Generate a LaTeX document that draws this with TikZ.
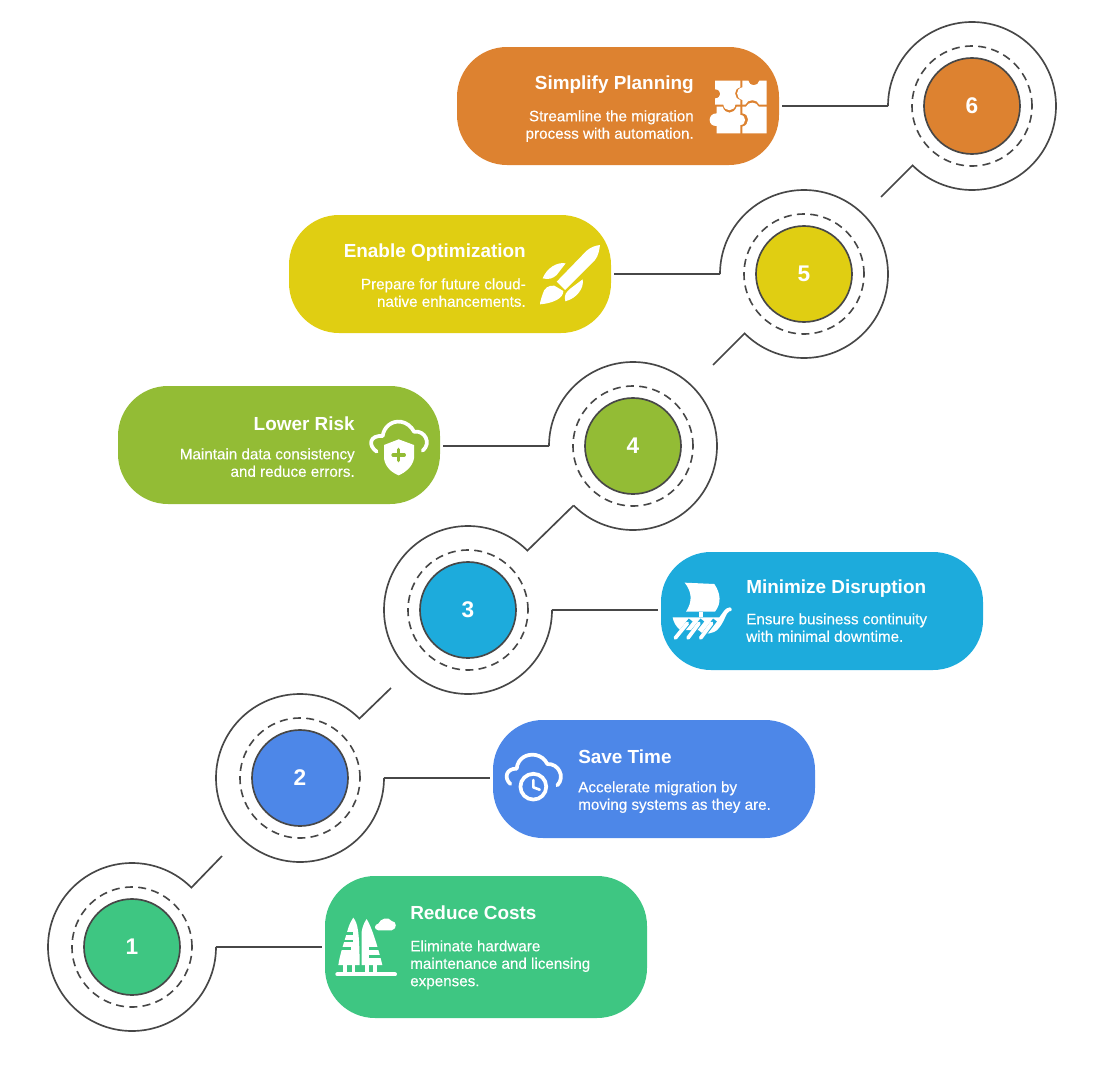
\documentclass[tikz,border=0pt]{standalone}
\usepackage{fontspec}
\setmainfont{Liberation Sans}
\definecolor{cA}{HTML}{3EC682}
\definecolor{cB}{HTML}{4D87E8}
\definecolor{cC}{HTML}{1DABDC}
\definecolor{cD}{HTML}{93BC35}
\definecolor{cE}{HTML}{E0CE12}
\definecolor{cF}{HTML}{DD8230}
\definecolor{ink}{HTML}{474747}
\tikzset{
  px/.style={x=0.75pt,y=-0.75pt},
  pill/.style={rounded corners=37.5pt,minimum width=241.5pt,minimum height=88.5pt,inner sep=0pt,outer sep=0pt},
  badge/.style={circle,draw=ink,line width=1.25pt,minimum size=72pt,inner sep=0pt,text=white,font=\bfseries\fontsize{17}{17}\selectfont},
  halo/.style={circle,draw=ink,dash pattern=on 6pt off 4pt,line width=1.2pt,minimum size=90pt,inner sep=0pt},
  outer/.style={circle,minimum size=126pt,inner sep=0pt,outer sep=0pt},
  ring/.style={draw=ink,line width=1.25pt},
  link/.style={draw=ink,line width=1.5pt,shorten >=2pt},
  title/.style={text=white,inner sep=0pt,font=\bfseries\fontsize{14.2}{15}\selectfont},
  bodytext/.style={text=white,inner sep=0pt,font=\fontsize{11.4}{13.1}\selectfont\addfontfeature{FakeBold=0.25}},
  ico/.style={fill=white,draw=none},
  icoline/.style={draw=white,line cap=round,line join=round,line width=2.8pt},
}
\newcommand{\stepmark}[5]{% name, x, y, color, number
  \node[outer] (outer#1) at (#2,#3) {};
  \node[halo] (halo#1) at (#2,#3) {};
  \node[badge,fill=#4] (badge#1) at (#2,#3) {#5};
}
\begin{document}
\begin{tikzpicture}[px]
\useasboundingbox (0,0) rectangle (1104,1067);
% step marks
\stepmark{1}{132}{947}{cA}{1}
\stepmark{2}{300}{778}{cB}{2}
\stepmark{3}{468}{610}{cC}{3}
\stepmark{4}{633}{446}{cD}{4}
\stepmark{5}{804}{274}{cE}{5}
\stepmark{6}{972}{106}{cF}{6}
% pills
\node[pill,fill=cA,minimum height=106.5pt] (pill1) at (486,947) {};
\node[pill,fill=cB] (pill2) at (654,779) {};
\node[pill,fill=cC] (pill3) at (822,611) {};
\node[pill,fill=cD] (pill4) at (279,445) {};
\node[pill,fill=cE] (pill5) at (450,274) {};
\node[pill,fill=cF] (pill6) at (618,106) {};
% free ends
\coordinate (tail1) at (222,856);
\coordinate (tail2) at (391,688);
\coordinate (tail5) at (713,365);
\coordinate (tail6) at (881,197);
% rings
\draw[ring] (outer1.east) arc[start angle=0,end angle=-315,radius=63pt] -- (tail1);
\draw[ring] (outer2.east) arc[start angle=0,end angle=-315,radius=63pt] -- (tail2);
\draw[ring] (outer3.east) arc[start angle=0,end angle=-315,radius=63pt] -- (outer4.south west);
\draw[ring] (outer4.west) arc[start angle=180,end angle=-135,radius=63pt];
\draw[ring] (outer5.west) arc[start angle=180,end angle=-135,radius=63pt] -- (tail5);
\draw[ring] (outer6.west) arc[start angle=180,end angle=-135,radius=63pt] -- (tail6);
% links
\draw[link] (outer1.east) -- (outer1.east -| pill1.west);
\draw[link] (outer2.east) -- (outer2.east -| pill2.west);
\draw[link] (outer3.east) -- (outer3.east -| pill3.west);
\draw[link] (outer4.west) -- (outer4.west -| pill4.east);
\draw[link] (outer5.west) -- (outer5.west -| pill5.east);
\draw[link] (outer6.west) -- (outer6.west -| pill6.east);
% texts
\node[title,anchor=west] (t1) at (410,913) {Reduce Costs};
\node[bodytext,anchor=north west,align=left] (b1) at (410,940) {Eliminate hardware\\maintenance and licensing\\expenses.};
\node[title,anchor=west] (t2) at (578,757) {Save Time};
\node[bodytext,anchor=north west,align=left] (b2) at (578,781) {Accelerate migration by\\moving systems as they are.};
\node[title,anchor=west] (t3) at (746,589) {Minimize Disruption};
\node[bodytext,anchor=north west,align=left] (b3) at (746,613) {Ensure business continuity\\with minimal downtime.};
\node[title,anchor=east] (t4) at (355,424) {Lower Risk};
\node[bodytext,anchor=north east,align=right] (b4) at (355,448) {Maintain data consistency\\and reduce errors.};
\node[title,anchor=east] (t5) at (526,253) {Enable Optimization};
\node[bodytext,anchor=north east,align=right] (b5) at (526,278) {Prepare for future cloud-\\native enhancements.};
\node[title,anchor=east] (t6) at (694,85) {Simplify Planning};
\node[bodytext,anchor=north east,align=right] (b6) at (694,110) {Streamline the migration\\process with automation.};
% icon: trees
\begin{scope}[shift={(325,905)},scale=1/3]
\draw[icoline,line width=3pt] (37,208) -- (210,208);
\fill[ico] (85,38) .. controls (98,55) and (103,75) .. (104,180) -- (40,180) .. controls (44,150) and (58,110) .. (68,75) .. controls (72,60) and (78,48) .. (85,38) -- cycle;
\fill[ico] (125,42) .. controls (140,65) and (160,130) .. (172,180) -- (110,180) -- (110,80) .. controls (112,65) and (118,52) .. (125,42) -- cycle;
\draw[cA,line width=1.8pt] (45,86) -- (84,86);
\draw[cA,line width=1.8pt] (45,108) -- (84,108);
\draw[cA,line width=1.8pt] (35,131) -- (78,131);
\draw[cA,line width=1.8pt] (132,130) -- (170,130);
\draw[cA,line width=1.8pt] (132,155) -- (175,155);
\fill[ico] (54,180) rectangle (65,202);
\fill[ico] (80,180) rectangle (91,202);
\fill[ico] (120,178) rectangle (131,202);
\fill[ico] (145,178) rectangle (156,202);
\fill[ico] (160,76) .. controls (145,74) and (148,58) .. (160,56) .. controls (165,42) and (190,32) .. (200,48) .. controls (215,48) and (218,72) .. (200,76) -- cycle;
\end{scope}
% icon: cloud clock
\begin{scope}[shift={(495,740)},scale=1/3]
\draw[icoline] (46,132) .. controls (25,112) and (35,85) .. (65,86) .. controls (68,55) and (95,40) .. (122,45) .. controls (138,48) and (150,58) .. (157,72) .. controls (190,70) and (212,110) .. (187,136);
\fill[cB] (115,140) circle[radius=36pt];
\draw[white,line width=2.8pt] (115,140) circle[radius=29pt];
\draw[icoline,line width=2pt] (115,120) -- (115,142) -- (134,149);
\end{scope}
% icon: sailing ship
\begin{scope}[shift={(660,570)},scale=1/3]
\fill[ico] (74,38) -- (163,42) .. controls (182,70) and (185,100) .. (165,125) -- (78,125) .. controls (98,95) and (96,65) .. (74,38) -- cycle;
\fill[ico] (118,125) rectangle (130,142);
\fill[ico] (38,142) -- (178,142) .. controls (188,130) and (195,112) .. (210,112) .. controls (218,115) and (216,125) .. (208,124) .. controls (198,128) and (195,150) .. (180,170) .. controls (170,185) and (160,190) .. (130,192) -- (115,180) -- (60,180) .. controls (48,170) and (40,155) .. (38,142) -- cycle;
\draw[cC,line width=3.6pt] (92,150) -- (40,215);
\draw[cC,line width=3.6pt] (127,150) -- (75,215);
\draw[cC,line width=3.6pt] (165,150) -- (115,215);
\draw[icoline] (82,160) -- (46,204);
\draw[icoline] (117,160) -- (84,204);
\draw[icoline] (155,160) -- (122,204);
\end{scope}
% icon: cloud shield
\begin{scope}[shift={(360,410)},scale=1/3]
\draw[icoline] (50,125) .. controls (22,105) and (30,75) .. (68,78) .. controls (72,50) and (95,32) .. (122,35) .. controls (140,38) and (155,50) .. (162,65) .. controls (195,60) and (215,100) .. (188,122);
\fill[ico] (72,105) -- (116,88) -- (162,105) -- (162,145) .. controls (158,170) and (135,188) .. (116,196) .. controls (95,188) and (75,170) .. (72,145) -- cycle;
\draw[cD,line width=2.4pt,line cap=round] (116,118) -- (116,152);
\draw[cD,line width=2.4pt,line cap=round] (99,135) -- (133,135);
\end{scope}
% icon: rocket
\begin{scope}[shift={(520,230)},scale=1/3]
\fill[ico] (240,45) .. controls (225,47) and (212,52) .. (200,62) -- (110,155) -- (135,180) -- (225,90) .. controls (235,78) and (238,60) .. (240,45) -- cycle;
\fill[ico] (137,100) .. controls (110,95) and (80,115) .. (68,145) .. controls (85,150) and (100,145) .. (110,135) -- cycle;
\fill[ico] (188,148) .. controls (193,175) and (170,205) .. (136,214) .. controls (130,195) and (140,185) .. (152,175) -- cycle;
\fill[ico] (103,167) .. controls (85,165) and (72,175) .. (68,192) .. controls (64,205) and (60,215) .. (60,223) .. controls (75,222) and (95,218) .. (110,210) .. controls (125,202) and (130,192) .. (130,183) -- cycle;
\end{scope}
% icon: puzzle
\begin{scope}[shift={(700,70)},scale=1/3]
\fill[ico] (45,32) -- (121,32) -- (121,52) .. controls (100,55) and (100,85) .. (121,90) -- (121,104) -- (106,104) .. controls (104,126) and (72,126) .. (70,104) -- (45,104) -- (45,85) .. controls (66,85) and (66,58) .. (45,58) -- cycle;
\fill[ico] (127,32) -- (145,32) .. controls (147,50) and (175,50) .. (178,32) -- (200,32) -- (200,104) -- (178,104) .. controls (172,86) and (142,86) .. (136,104) -- (127,104) -- (127,90) .. controls (106,85) and (106,55) .. (127,52) -- cycle;
\fill[ico] (68,110) .. controls (74,134) and (102,134) .. (110,110) -- (121,110) -- (121,135) .. controls (140,135) and (140,165) .. (121,165) -- (121,190) -- (50,190) -- (50,168) .. controls (22,170) and (22,130) .. (50,130) -- (50,110) -- cycle;
\fill[ico] (127,110) -- (138,110) .. controls (144,94) and (170,94) .. (176,110) -- (200,110) -- (200,190) -- (127,190) -- (127,170) .. controls (150,165) and (150,132) .. (127,130) -- cycle;
\end{scope}
\end{tikzpicture}
\end{document}
